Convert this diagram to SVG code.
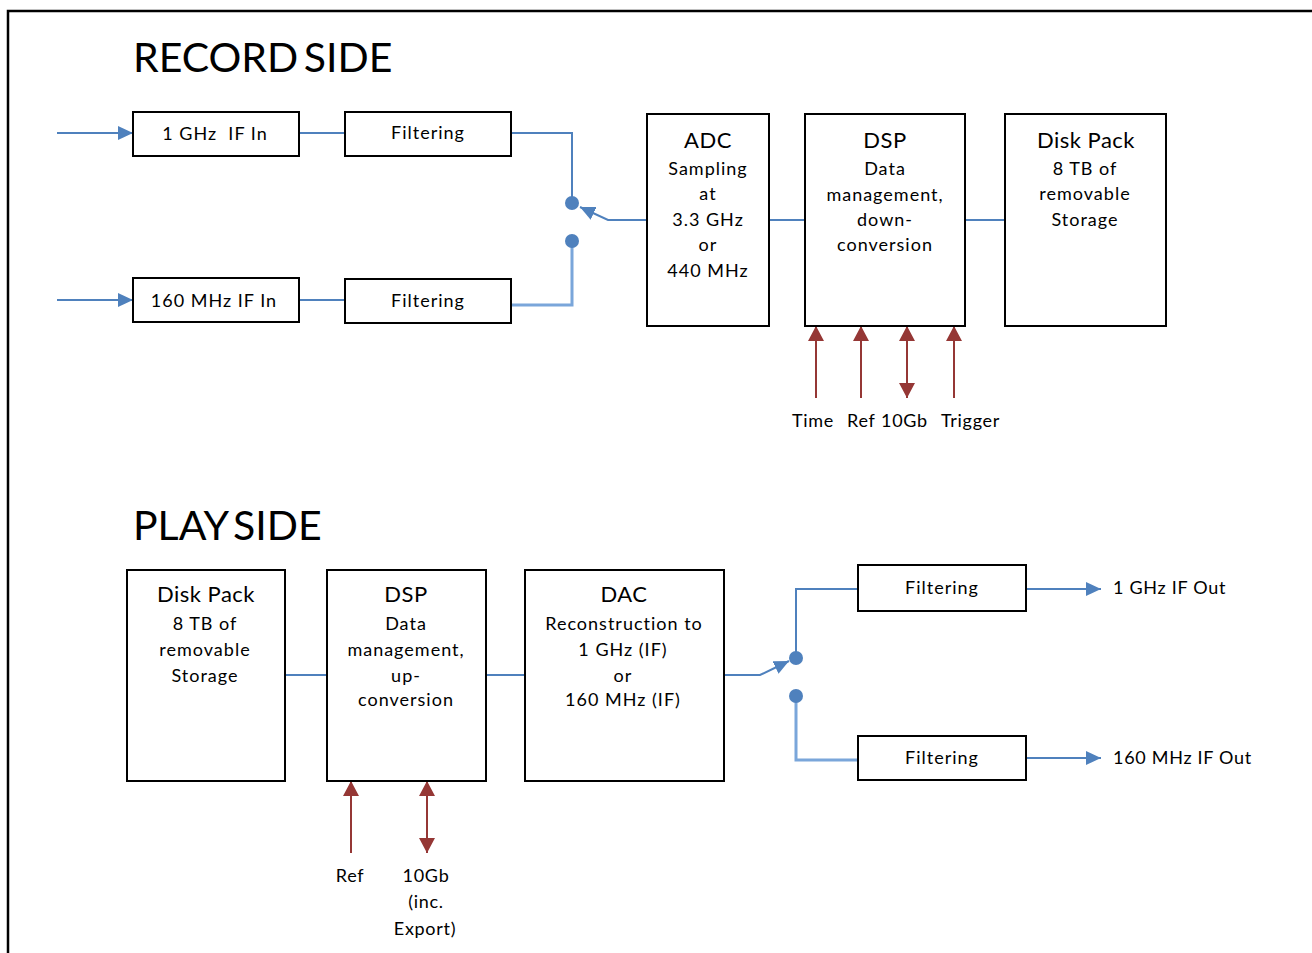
<svg xmlns="http://www.w3.org/2000/svg" width="1312" height="953" viewBox="0 0 1312 953">
<style>
.box{fill:#fff;stroke:#000;stroke-width:2}
.t{font-family:Lato,"Liberation Sans",sans-serif;font-size:18px;fill:#000;text-anchor:middle;letter-spacing:1px}
.h{font-size:22px;letter-spacing:0.5px}
.title{font-family:Lato,"Liberation Sans",sans-serif;font-size:41px;fill:#000;word-spacing:-5px}
.lbl{font-family:Lato,"Liberation Sans",sans-serif;font-size:18px;fill:#000;letter-spacing:0.7px}
.bl{fill:none;stroke:#4f81bd;stroke-width:2}
.bl2{fill:none;stroke:#7aa6da;stroke-width:3}
.rd{fill:none;stroke:#953735;stroke-width:2}
.dot{fill:#4f81bd}
</style>
<defs>
<marker id="ab" markerUnits="userSpaceOnUse" markerWidth="16" markerHeight="14" refX="15" refY="7" orient="auto"><path d="M0,0 L15,7 L0,14 z" fill="#4f81bd"/></marker>
<marker id="ar" markerUnits="userSpaceOnUse" markerWidth="16" markerHeight="16" refX="15" refY="8" orient="auto-start-reverse"><path d="M0,0 L15,8 L0,16 z" fill="#953735"/></marker>
</defs>
<rect x="0" y="0" width="1312" height="953" fill="#fff"/>
<rect x="8" y="11" width="1330" height="960" fill="none" stroke="#000" stroke-width="2.5"/>
<text class="title" x="133" y="72">RECORD SIDE</text>
<text class="title" x="133" y="540">PLAY SIDE</text>

<g id="connectors">
<line class="bl" x1="57" y1="133" x2="133" y2="133" marker-end="url(#ab)"/>
<line class="bl" x1="57" y1="300" x2="133" y2="300" marker-end="url(#ab)"/>
<line class="bl" x1="299" y1="133" x2="345" y2="133"/>
<line class="bl" x1="299" y1="300" x2="345" y2="300"/>
<polyline class="bl" points="511,133 572,133 572,203"/>
<polyline class="bl2" points="511,305 572,305 572,241"/>
<polyline class="bl" points="647,220 608,220 580,207" marker-end="url(#ab)"/>
<line class="bl" x1="769" y1="220" x2="805" y2="220"/>
<line class="bl" x1="965" y1="220" x2="1005" y2="220"/>
<line class="rd" x1="816" y1="398" x2="816" y2="326" marker-end="url(#ar)"/>
<line class="rd" x1="861" y1="398" x2="861" y2="326" marker-end="url(#ar)"/>
<line class="rd" x1="907" y1="398" x2="907" y2="326" marker-start="url(#ar)" marker-end="url(#ar)"/>
<line class="rd" x1="954" y1="398" x2="954" y2="326" marker-end="url(#ar)"/>

<line class="bl" x1="285" y1="675" x2="327" y2="675"/>
<line class="bl" x1="486" y1="675" x2="525" y2="675"/>
<polyline class="bl" points="724,675 760,675 789,661" marker-end="url(#ab)"/>
<polyline class="bl" points="796,658 796,589 858,589"/>
<polyline class="bl2" points="796,696 796,760 858,760"/>
<line class="bl" x1="1026" y1="589" x2="1101" y2="589" marker-end="url(#ab)"/>
<line class="bl" x1="1026" y1="758" x2="1101" y2="758" marker-end="url(#ab)"/>
<line class="rd" x1="351" y1="853" x2="351" y2="781" marker-end="url(#ar)"/>
<line class="rd" x1="427" y1="853" x2="427" y2="781" marker-start="url(#ar)" marker-end="url(#ar)"/>
<circle class="dot" cx="572" cy="203" r="7"/>
<circle class="dot" cx="572" cy="241" r="7"/>
<circle class="dot" cx="796" cy="658" r="7"/>
<circle class="dot" cx="796" cy="696" r="7"/>
</g>

<g id="if1in"><rect class="box" x="133" y="112" width="166" height="44"/><text class="t" x="215" y="140" xml:space="preserve">1 GHz  IF In</text></g>
<g id="if160in"><rect class="box" x="133" y="278" width="166" height="44"/><text class="t" x="214" y="307">160 MHz IF In</text></g>
<g id="filt1"><rect class="box" x="345" y="112" width="166" height="44"/><text class="t" x="428" y="139">Filtering</text></g>
<g id="filt2"><rect class="box" x="345" y="279" width="166" height="44"/><text class="t" x="428" y="307">Filtering</text></g>
<g id="adc"><rect class="box" x="647" y="114" width="122" height="212"/>
<text class="t h" x="708" y="148">ADC</text>
<text class="t" x="708" y="175">Sampling</text>
<text class="t" x="708" y="200">at</text>
<text class="t" x="708" y="226">3.3 GHz</text>
<text class="t" x="708" y="251">or</text>
<text class="t" x="708" y="277">440 MHz</text></g>
<g id="dsp1"><rect class="box" x="805" y="114" width="160" height="212"/>
<text class="t h" x="885" y="148">DSP</text>
<text class="t" x="885" y="175">Data</text>
<text class="t" x="885" y="201">management,</text>
<text class="t" x="885" y="226">down-</text>
<text class="t" x="885" y="251">conversion</text></g>
<g id="disk1"><rect class="box" x="1005" y="114" width="161" height="212"/>
<text class="t h" x="1086" y="148">Disk Pack</text>
<text class="t" x="1085" y="175">8 TB of</text>
<text class="t" x="1085" y="200">removable</text>
<text class="t" x="1085" y="226">Storage</text></g>
<g id="reclabels">
<text class="lbl" x="792" y="427">Time</text>
<text class="lbl" x="847" y="427">Ref</text>
<text class="lbl" x="881" y="427">10Gb</text>
<text class="lbl" x="941" y="427">Trigger</text>
</g>

<g id="disk2"><rect class="box" x="127" y="570" width="158" height="211"/>
<text class="t h" x="206" y="602">Disk Pack</text>
<text class="t" x="205" y="630">8 TB of</text>
<text class="t" x="205" y="656">removable</text>
<text class="t" x="205" y="682">Storage</text></g>
<g id="dsp2"><rect class="box" x="327" y="570" width="159" height="211"/>
<text class="t h" x="406" y="602">DSP</text>
<text class="t" x="406" y="630">Data</text>
<text class="t" x="406" y="656">management,</text>
<text class="t" x="406" y="682">up-</text>
<text class="t" x="406" y="706">conversion</text></g>
<g id="dac"><rect class="box" x="525" y="570" width="199" height="211"/>
<text class="t h" x="624" y="602">DAC</text>
<text class="t" x="624" y="630">Reconstruction to</text>
<text class="t" x="623" y="656">1 GHz (IF)</text>
<text class="t" x="623" y="682">or</text>
<text class="t" x="623" y="706">160 MHz (IF)</text></g>
<g id="filt3"><rect class="box" x="858" y="565" width="168" height="46"/><text class="t" x="942" y="594">Filtering</text></g>
<g id="filt4"><rect class="box" x="858" y="736" width="168" height="44"/><text class="t" x="942" y="764">Filtering</text></g>
<g id="outlabels">
<text class="lbl" x="1113" y="594">1 GHz IF Out</text>
<text class="lbl" x="1113" y="764">160 MHz IF Out</text>
<text class="lbl" x="350" y="882" text-anchor="middle">Ref</text>
<text class="lbl" x="426" y="882" text-anchor="middle">10Gb</text>
<text class="lbl" x="426" y="908" text-anchor="middle">(inc.</text>
<text class="lbl" x="425" y="935" text-anchor="middle">Export)</text>
</g>
</svg>
